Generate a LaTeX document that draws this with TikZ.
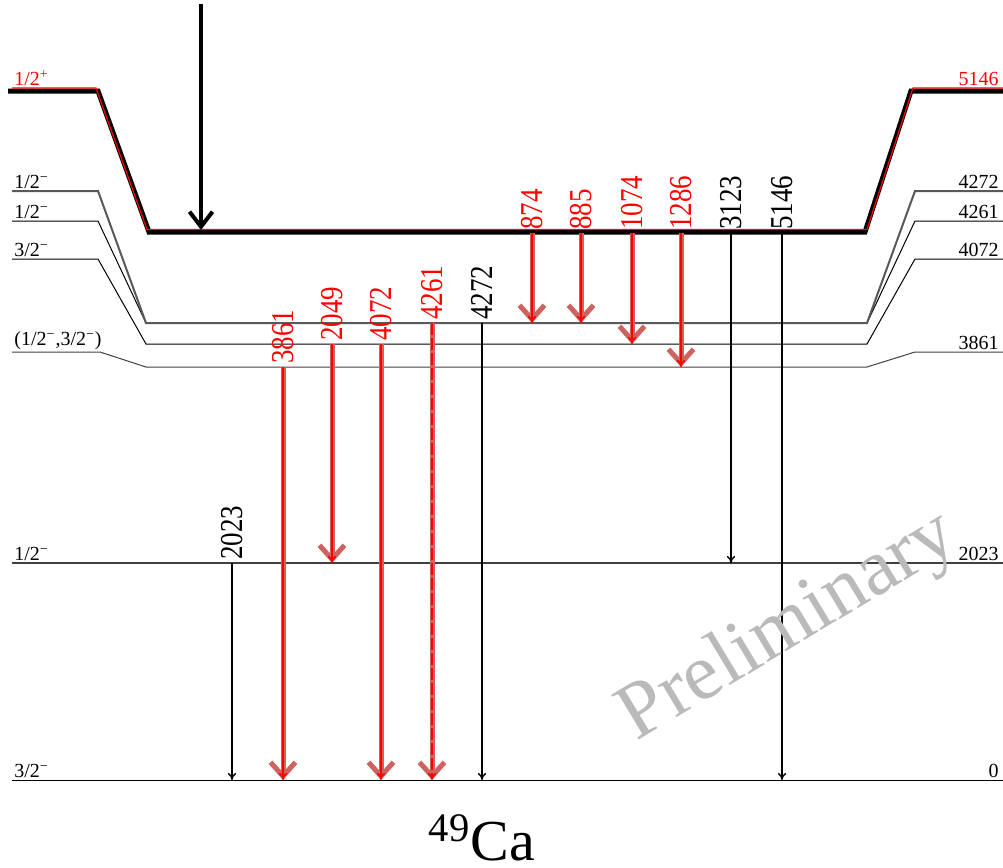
\documentclass[tikz,border=0pt]{standalone}
\usepackage{fontspec}
\setmainfont{Liberation Serif}
\usetikzlibrary{arrows.meta}
\definecolor{thk}{RGB}{205,98,95}
\begin{document}
\begin{tikzpicture}[x=.5pt,y=-.5pt,
  lev/.style={line width=.5pt},
  gam/.style={line width=.7pt,-{To[length=3.5pt,width=4pt]}},
  gred/.style={gam,red,line width=.75pt},
  gthk/.style={thk,line width=2.5pt,-{Straight Barb[length=7pt,width=12.5pt]}},
  llab/.style={anchor=south west,inner sep=1pt,font=\fontsize{10}{12}\selectfont},
  rlab/.style={anchor=south east,inner sep=1pt,font=\fontsize{10}{12}\selectfont},
  glab/.style={anchor=west,rotate=90,yscale=1.18,inner sep=1.5pt,font=\fontsize{13.5}{16}\selectfont}]
  \useasboundingbox (0,0) rectangle (1003,868);
  % levels
  \draw[line width=2.5pt] (8,91)--(98,91)--(149,232)--(865,232)--(911,91)--(1003,91); \draw[red,line width=.6pt] (12,88)--(96,88)--(147,229.5)--(867,229.5)--(913,88)--(1003,88);
  \draw[lev] (12,221)--(98,221)--(146,323)--(867,323)--(915,221)--(1003,221); \draw[lev,black!65,line width=1pt] (12,191)--(98,191)--(146,323)--(867,323)--(915,191)--(1003,191);
  \draw[lev] (12,259)--(98,259)--(146,344)--(867,344)--(915,259)--(1003,259); \draw[lev,black!75] (12,352)--(100,352)--(146,367)--(867,367)--(915,352)--(1003,352);
  \draw[lev,black!75,line width=.7pt] (12,563)--(1003,563); \draw[lev] (12,780)--(1003,780);
  \node[llab,red] (j5146) at (12,88) {1/2\textsuperscript{+}}; \node[rlab,red] (e5146) at (1001,88) {5146};
  \node[llab] (j4272) at (12,191) {1/2\textsuperscript{−}}; \node[rlab] (e4272) at (1001,191) {4272};
  \node[llab] (j4261) at (12,221) {1/2\textsuperscript{−}}; \node[rlab] (e4261) at (1001,221) {4261};
  \node[llab] (j4072) at (12,259) {3/2\textsuperscript{−}}; \node[rlab] (e4072) at (1001,259) {4072};
  \node[llab] (j3861) at (12,352) {(1/2\textsuperscript{−},3/2\textsuperscript{−})}; \node[rlab] (e3861) at (1001,352) {3861};
  \node[llab] (j2023) at (12,563) {1/2\textsuperscript{−}}; \node[rlab] (e2023) at (1001,563) {2023};
  \node[llab] (j0) at (12,780) {3/2\textsuperscript{−}}; \node[rlab] (e0) at (1001,780) {0};
  % feeding
  \coordinate (f0) at (201,4); \coordinate (f1) at (201,230);
  \draw[line width=2pt,-{Straight Barb[length=7.5pt,width=11.5pt]}] (f0)--(f1);
  % gamma rays
  \coordinate (a874) at (532,233); \coordinate (b874) at (532,323); \coordinate (a885) at (581,233); \coordinate (b885) at (581,323);
  \coordinate (a1074) at (632,233); \coordinate (b1074) at (632,344); \coordinate (a1286) at (681,233); \coordinate (b1286) at (681,367);
  \coordinate (a3123) at (731,233); \coordinate (b3123) at (731,563); \coordinate (a5146) at (782,233); \coordinate (b5146) at (782,780);
  \coordinate (a3861) at (283,367); \coordinate (b3861) at (283,780); \coordinate (a2049) at (332,344); \coordinate (b2049) at (332,563);
  \coordinate (a4072) at (381,344); \coordinate (b4072) at (381,780); \coordinate (a4261) at (432,323); \coordinate (b4261) at (432,780);
  \coordinate (a4272) at (482,323); \coordinate (b4272) at (482,780); \coordinate (a2023) at (232,563); \coordinate (b2023) at (232,780);
  \draw[gthk] (a874)--(b874); \draw[gthk] (a885)--(b885); \draw[gthk] (a1074)--(b1074); \draw[gthk] (a1286)--(b1286);
  \draw[gthk,xshift=.7pt] (a3861)--(b3861); \draw[gthk,xshift=.7pt] (a2049)--(b2049); \draw[gthk,xshift=.7pt] (a4072)--(b4072); \draw[gthk,xshift=.7pt] (a4261)--(b4261);
  \draw[gred] (a874)--(b874); \draw[gred] (a885)--(b885); \draw[gred] (a1074)--(b1074); \draw[gred] (a1286)--(b1286);
  \draw[gred] (a3861)--(b3861); \draw[gred] (a2049)--(b2049); \draw[gred] (a4072)--(b4072); \draw[gred,dash pattern=on 6pt off 1.5pt] (a4261)--(b4261);
  \draw[gam] (a3123)--(b3123); \draw[gam] (a5146)--(b5146); \draw[gam] (a4272)--(b4272); \draw[gam] (a2023)--(b2023);
  \node[glab,red] (l874) at (a874) {874}; \node[glab,red] (l885) at (a885) {885}; \node[glab,red] (l1074) at (a1074) {1074}; \node[glab,red] (l1286) at (a1286) {1286};
  \node[glab] (l3123) at (a3123) {3123}; \node[glab] (l5146) at (a5146) {5146};
  \node[glab,red] (l3861) at (a3861) {3861}; \node[glab,red] (l2049) at (a2049) {2049}; \node[glab,red] (l4072) at (a4072) {4072}; \node[glab,red] (l4261) at (a4261) {4261};
  \node[glab] (l4272) at (a4272) {4272}; \node[glab] (l2023) at (a2023) {2023};
  \node[anchor=base,inner sep=0pt,font=\fontsize{29}{32}\selectfont] (nuc) at (482,860) {\textsuperscript{49}Ca};
  \node[rotate=31,black!27,font=\fontsize{40}{46}\selectfont] (prel) at (789,628) {Preliminary};
\end{tikzpicture}
\end{document}
